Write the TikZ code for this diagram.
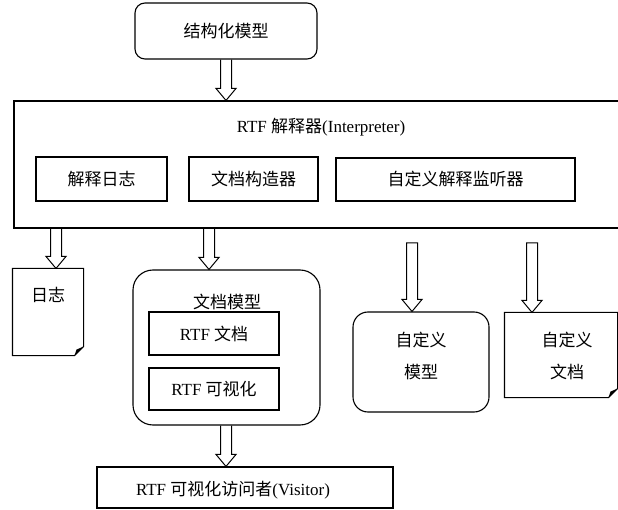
\documentclass[tikz,border=0pt]{standalone}
\usepackage{fontspec}
\setmainfont{Liberation Serif}
\newfontfamily\cjk{Noto Sans CJK SC}
\usetikzlibrary{calc}
\tikzset{
  box/.style={draw, rectangle, inner sep=0pt},
  rbox/.style={box, rounded corners=#1},
  ghost/.style={rectangle, inner sep=0pt, draw=none},
  txt/.style={inner sep=0pt, align=center},
  hollow/.style={line width=1pt, line join=miter},
}
\newcommand\harrow[2]{%
  \path #1 coordinate (hA) #2 coordinate (hB);
  \draw[hollow] ($(hA)+(-5.5pt,0)$) -- ($(hB)+(-5.5pt,12pt)$) -- ($(hB)+(-10pt,12pt)$) -- (hB)
     -- ($(hB)+(10pt,12pt)$) -- ($(hB)+(5.5pt,12pt)$) -- ($(hA)+(5.5pt,0)$);}
\newcommand\harrowclosed[2]{%
  \path #1 coordinate (hA) #2 coordinate (hB);
  \draw[hollow] ($(hA)+(-5.5pt,0)$) -- ($(hB)+(-5.5pt,12pt)$) -- ($(hB)+(-10pt,12pt)$) -- (hB)
     -- ($(hB)+(10pt,12pt)$) -- ($(hB)+(5.5pt,12pt)$) -- ($(hA)+(5.5pt,0)$) -- cycle;}
\begin{document}
\begin{tikzpicture}[x=1pt, y=-1pt, line width=1.1pt, font=\fontsize{17}{20}\selectfont]
\useasboundingbox[fill=white] (0,0) rectangle (618,510);

% top
\node[rbox=10pt, minimum width=182pt, minimum height=56pt] (top) at (226,31) {\cjk 结构化模型};

% interpreter
\node[box, minimum width=608pt, minimum height=127pt] (interp) at (318,164.5) {};
\node[txt] (title) at (321,127) {RTF {\cjk 解释器}(Interpreter)};
\node[box, minimum width=131pt, minimum height=44pt] (log) at (101.5,179) {\cjk 解释日志};
\node[box, minimum width=129pt, minimum height=44pt] (builder) at (253.5,179) {\cjk 文档构造器};
\node[box, minimum width=239pt, minimum height=43pt] (listener) at (455.5,179.5) {\cjk 自定义解释监听器};

% log document
\node[ghost, minimum width=70pt, minimum height=86pt] (logdoc) at (48,312) {};
\node[txt] (logtxt) at (48,295) {\cjk 日志};
\draw (logdoc.north west) -- (logdoc.north east) -- ($(logdoc.south east)+(0,9pt)$)
  -- ($(logdoc.south east)+(-9pt,0)$) -- (logdoc.south west) -- cycle;
\fill ($(logdoc.south east)+(0,9pt)$) -- ($(logdoc.south east)+(-7pt,6pt)$) -- ($(logdoc.south east)+(-9pt,0)$) -- cycle;

% document model
\node[rbox=20pt, minimum width=187pt, minimum height=155pt] (docmodel) at (226.5,347.5) {};
\node[txt] (dmtitle) at (227,302) {\cjk 文档模型};
\node[box, minimum width=130pt, minimum height=43pt] (rtfdoc) at (214,333.5) {RTF {\cjk 文档}};
\node[box, minimum width=130pt, minimum height=42pt] (rtfvis) at (214,389) {RTF {\cjk 可视化}};

% visitor
\node[box, minimum width=296pt, minimum height=41pt] (visitor) at (245,487.5) {};
\node[txt] (vistxt) at (233,490) {RTF {\cjk 可视化访问者}(Visitor)};

% custom model
\node[rbox=15pt, minimum width=136pt, minimum height=100pt] (cmodel) at (421,362) {};
\node[txt, font=\fontsize{17}{32}\selectfont] (cmtxt) at (421,356) {\cjk 自定义\\\cjk 模型};

% custom document
\node[ghost, minimum width=112pt, minimum height=84pt] (cdoc) at (561,355) {};
\node[txt, font=\fontsize{17}{32}\selectfont] (cdtxt) at (567,356) {\cjk 自定义\\\cjk 文档};
\draw (cdoc.north west) -- (cdoc.north east) -- ($(cdoc.south east)+(0,9pt)$)
  -- ($(cdoc.south east)+(-9pt,0)$) -- (cdoc.south west) -- cycle;
\fill ($(cdoc.south east)+(0,9pt)$) -- ($(cdoc.south east)+(-7pt,6pt)$) -- ($(cdoc.south east)+(-9pt,0)$) -- cycle;

% arrows
\coordinate (xlog) at (56,0);
\coordinate (xdm) at (209,0);
\coordinate (cmin) at (412,243);
\coordinate (cdin) at (532,243);
\harrow{(top.south)}{(interp.north -| top.south)}
\harrow{(interp.south -| xlog)}{(logdoc.north -| xlog)}
\harrow{(interp.south -| xdm)}{(docmodel.north -| xdm)}
\harrowclosed{(cmin)}{(cmodel.north -| cmin)}
\harrowclosed{(cdin)}{(cdoc.north -| cdin)}
\harrow{(docmodel.south -| top.south)}{(visitor.north -| top.south)}
\end{tikzpicture}
\end{document}
